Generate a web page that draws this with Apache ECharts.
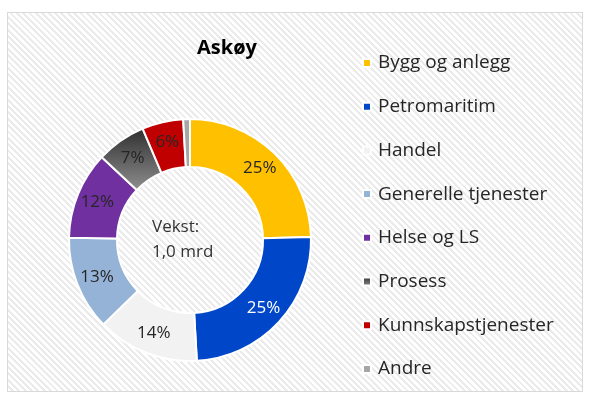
<!DOCTYPE html>
<html>
<head>
<meta charset="utf-8">
<script src="https://cdn.jsdelivr.net/npm/echarts@6/dist/echarts.min.js"></script>
<style>
    html, body { margin: 0; padding: 0; background: #fff; }
    #frame {
        position: absolute; left: 7px; top: 12px; width: 574px; height: 378px;
        border: 1px solid #d9d9d9;
        background: repeating-linear-gradient(45deg, #ffffff 0px, #ffffff 2.5px, #ebebeb 2.5px, #ebebeb 4.5px);
    }
    #chart { position: absolute; left: 0; top: 0; width: 592px; height: 409px; }
</style>
</head>
<body>
<div id="frame"></div>
<div id="chart"></div>
<script>
const categories = ['Bygg og anlegg', 'Petromaritim', 'Handel', 'Generelle tjenester', 'Helse og LS', 'Prosess', 'Kunnskapstjenester', 'Andre'];
const shares = [24.6, 24.5, 13.6, 12.6, 11.7, 6.6, 5.5, 0.9];
const centerText = ['Vekst:', '1,0 mrd'];

const fontFamily = '"Open Sans", "Noto Sans", sans-serif';
const prosessFill = new echarts.graphic.LinearGradient(0, 0, 0, 1, [
    { offset: 0, color: '#2f2f2f' },
    { offset: 1, color: '#8f8f8f' },
]);
const colors = ['#ffc000', '#0046c8', '#f2f2f2', '#95b3d7', '#7030a0', prosessFill, '#c00000', '#a6a6a6'];
const labelColors = ['#262626', '#ffffff', '#262626', '#262626', '#262626', '#262626', '#262626', '#262626'];

let data = categories.map((name, i) => ({
    name: name,
    value: shares[i],
    itemStyle: { color: colors[i] },
    label: { show: i !== 7, color: labelColors[i] },
}));

let myChart = echarts.init(document.getElementById('chart'));
myChart.setOption({
    animation: false,
    title: {
        text: 'Askøy',
        left: 222,
        top: 33,
        textAlign: 'center',
        textStyle: { fontFamily: fontFamily, fontSize: 20, fontWeight: 'bold', color: '#000' },
    },
    legend: {
        orient: 'vertical',
        left: 357,
        top: 46,
        icon: 'rect',
        itemWidth: 8,
        itemHeight: 8,
        itemGap: 19.7,
        data: categories,
        textStyle: { fontFamily: fontFamily, fontSize: 19, lineHeight: 24, color: '#262626', padding: [0, 0, 0, 2] },
    },
    graphic: [{
        type: 'text',
        x: 152,
        y: 240,
        style: {
            text: centerText.join('\n'),
            align: 'left',
            verticalAlign: 'middle',
            fontFamily: fontFamily,
            fontSize: 17,
            lineHeight: 25,
            fill: '#333333',
        },
    }],
    series: [{
        type: 'pie',
        center: [190, 240],
        radius: [73, 121],
        startAngle: 90,
        clockwise: true,
        itemStyle: { borderColor: '#ffffff', borderWidth: 2 },
        label: {
            position: 'inside',
            fontFamily: fontFamily,
            fontSize: 17,
            formatter: (p) => Math.round(p.value) + '%',
        },
        labelLine: { show: false },
        emphasis: { disabled: true },
        data: data,
    }],
});
</script>
</body>
</html>
